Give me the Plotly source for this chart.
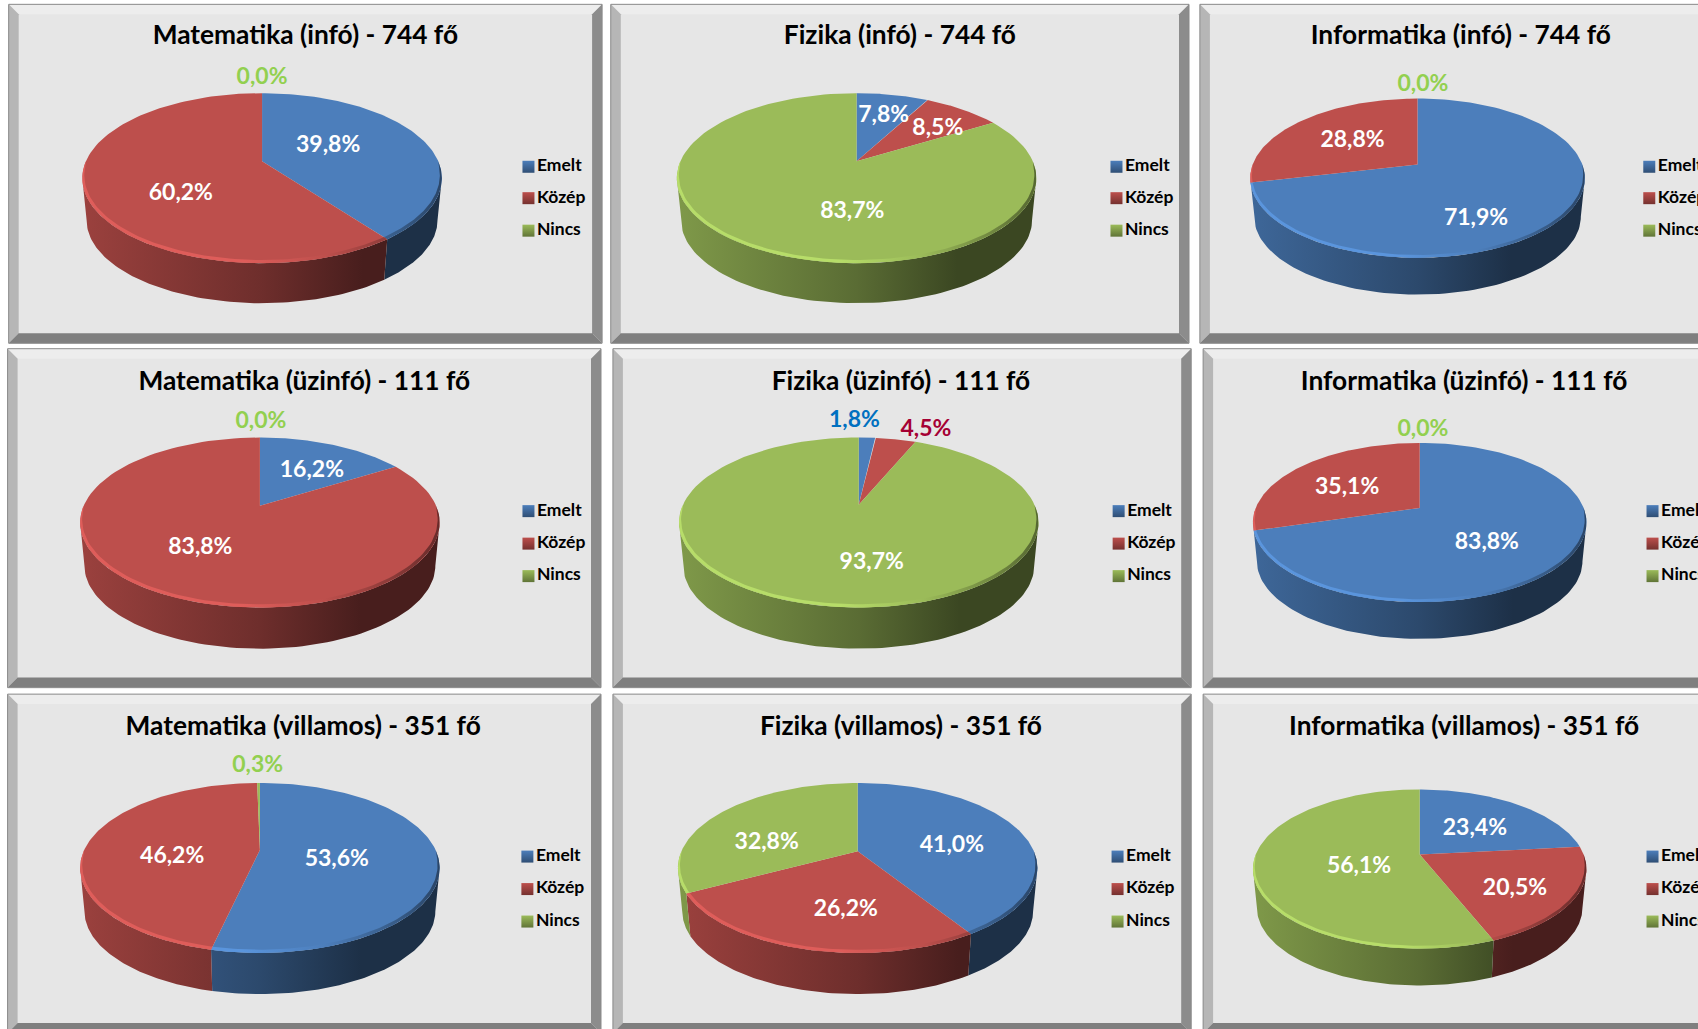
"""Kilenc térhatású kördiagram: érettségi szintek szakonként."""

import numpy as np
import plotly.graph_objects as go

TITLES = [
    "Matematika (infó) - 744 fő", "Fizika (infó) - 744 fő", "Informatika (infó) - 744 fő",
    "Matematika (üzinfó) - 111 fő", "Fizika (üzinfó) - 111 fő", "Informatika (üzinfó) - 111 fő",
    "Matematika (villamos) - 351 fő", "Fizika (villamos) - 351 fő", "Informatika (villamos) - 351 fő",
]
CATEGORIES = ["Emelt", "Közép", "Nincs"]
EMELT = [39.8, 7.8, 71.9, 16.2, 1.8, 83.8, 53.6, 41.0, 23.4]
KOZEP = [60.2, 8.5, 28.8, 83.8, 4.5, 35.1, 46.2, 26.2, 20.5]
NINCS = [0.0, 83.7, 0.0, 0.0, 93.7, 0.0, 0.3, 32.8, 56.1]

COLORS = ["#4c7ebb", "#bd4f4c", "#9bbb59"]
GREEN_OUT = "#92d050"

# layout, measured on the 1568 wide view of the page
S = 1698 / 1568
FRAMES = [
    (8, 4, 556, 317), (564, 4, 1098, 317), (1108, 4, 1650, 317),
    (7, 322, 555, 635), (566, 322, 1100, 635), (1111, 322, 1650, 635),
    (7, 641, 555, 954), (566, 641, 1100, 954), (1111, 641, 1650, 954),
]
# centre x, apex y, half width, top, rim bottom, side bottom
PIES = [
    (242, 149, 166, 86, 243, 280), (791, 149, 166, 86, 243, 280), (1309, 152, 154.5, 91, 238, 272),
    (240, 467, 166, 404, 561, 599), (793, 466, 166, 404, 561, 599), (1311, 469, 154, 409, 556, 590),
    (240, 785, 166, 723, 880, 918), (792, 786, 166, 723, 880, 918), (1311, 789, 154, 729, 876, 910),
]
TITLE_POS = [(282, 32), (831, 32), (1349, 32), (281, 351), (832, 351), (1352, 351),
             (280, 670), (832, 670), (1352, 670)]
LABEL_POS = [
    [(303, 132), (167, 176), (242, 69)],
    [(816, 104), (866, 116), (787, 193)],
    [(1363, 199), (1249, 127), (1314, 76)],
    [(288, 432), (185, 503), (241, 387)],
    [(789, 386), (855, 394), (805, 517)],
    [(1373, 499), (1244, 448), (1314, 394)],
    [(311, 791), (159, 789), (238, 705)],
    [(879, 778), (781, 838), (708, 776)],
    [(1362, 763), (1399, 818), (1255, 798)],
]
LABEL_COLORS = [
    ["white", "white", GREEN_OUT], ["white", "white", "white"], ["white", "white", GREEN_OUT],
    ["white", "white", GREEN_OUT], ["#0070c0", "#a50034", "white"], ["white", "white", GREEN_OUT],
    ["white", "white", GREEN_OUT], ["white", "white", "white"], ["white", "white", "white"],
]
LEGEND_X = [488, 1031, 1523, 488, 1033, 1526, 487, 1032, 1526]
LEGEND_Y = [(153, 182, 212), (153, 182, 212), (153, 182, 212),
            (471, 501, 531), (471, 501, 531), (471, 501, 531),
            (790, 820, 850), (790, 820, 850), (790, 820, 850)]

SIDE_STOPS = [(0, 0.82), (0.5, 0.58), (0.78, 0.38), (1, 0.38)]
RIM_STOPS = [(0, 1.18), (0.45, 1.18), (0.68, 1.0), (0.88, 0.72), (1, 0.55)]
INSET = 0.976
FONT = "Lato"
TEXT_DY = 3  # Lato sits higher in the line than the original font


def shade(color, f):
    rgb = [int(color[i:i + 2], 16) for i in (1, 3, 5)]
    return "rgb(%d,%d,%d)" % tuple(min(255, round(c * f)) for c in rgb)


def gradient(color, stops, t0, t1):
    """Colorscale for the part t0..t1 of a gradient that spans the whole pie."""
    ts = [t[0] for t in stops]
    fs = [t[1] for t in stops]
    t0, t1 = np.clip([t0, t1], 0, 1)
    inner = [t for t in ts if t0 < t < t1]
    pts = [t0] + inner + [t1]
    if t1 - t0 < 1e-6:
        return [[0, shade(color, np.interp(t0, ts, fs))], [1, shade(color, np.interp(t0, ts, fs))]]
    return [[(t - t0) / (t1 - t0), shade(color, np.interp(t, ts, fs))] for t in pts]


def make_geom(pie):
    cx, ay, hw, top, rim, bottom = [p * S for p in pie]
    up, down = ay - top, rim - ay
    k = (down - up) / (down + up)
    return dict(cx=cx, ay=ay, hw=hw, k=k, h=up * (1 + k), a=hw * np.sqrt(1 - k ** 2),
                dy=bottom - ay - INSET * down)


def rim_xy(g, theta, r=1.0):
    # theta in radians, clockwise from the top of the circle, seen in perspective
    u, v = r * np.sin(theta), r * np.cos(theta)
    w = 1 + g["k"] * v
    return g["cx"] + g["a"] * u / w, g["ay"] - g["h"] * v / w


def floor_xy(g, theta):
    x, y = rim_xy(g, theta)
    return g["cx"] + INSET * (x - g["cx"]), g["ay"] + INSET * (y - g["ay"]) + g["dy"]


def add_poly(fig, x, y, name, color=None, scale=None):
    kw = dict(fillcolor=color) if scale is None else dict(
        fillgradient=dict(type="horizontal", colorscale=scale))
    fig.add_trace(go.Scatter(x=list(x), y=list(y), mode="lines", fill="toself",
                             line=dict(width=0), name=name, hoverinfo="name",
                             showlegend=False, **kw))


def add_frame(shapes, x0, y0, x1, y1):
    b = 10
    x0, y0, x1, y1 = x0 * S, y0 * S, x1 * S, y1 * S
    faces = [
        ("#ededed", [(x0, y0), (x1, y0), (x1 - b, y0 + b), (x0 + b, y0 + b)]),
        ("#b6b6b6", [(x0, y0), (x0 + b, y0 + b), (x0 + b, y1 - b), (x0, y1)]),
        ("#8c8c8c", [(x1, y0), (x1 - b, y0 + b), (x1 - b, y1 - b), (x1, y1)]),
        ("#7f7f7f", [(x0, y1), (x0 + b, y1 - b), (x1 - b, y1 - b), (x1, y1)]),
    ]
    shapes.append(dict(type="rect", x0=x0, y0=y0, x1=x1, y1=y1, xref="x", yref="y", layer="below",
                       fillcolor="#e6e6e6", line=dict(width=0)))
    for col, pts in faces:
        path = "M" + "L".join(f"{px:.1f},{py:.1f}" for px, py in pts) + "Z"
        shapes.append(dict(type="path", path=path, xref="x", yref="y", layer="below",
                           fillcolor=col, line=dict(width=0)))
    shapes.append(dict(type="rect", x0=x0, y0=y0, x1=x1, y1=y1, xref="x", yref="y", layer="below",
                       line=dict(color="#8a8a8a", width=1)))


fig = go.Figure()
shapes = []

for i, title in enumerate(TITLES):
    add_frame(shapes, *FRAMES[i])
    g = make_geom(PIES[i])
    values = [EMELT[i], KOZEP[i], NINCS[i]]
    edges = np.cumsum([0] + values) / sum(values) * 2 * np.pi
    left, width = g["cx"] - g["hw"], 2 * g["hw"]

    # the wall runs between the points where the rim is widest
    th_r = np.arccos(-g["k"])
    th_l = 2 * np.pi - th_r
    wall = edges.copy()
    wall[(wall > th_l - np.radians(8)) & (wall < th_l)] = th_l  # too thin to show

    # side wall first, the top surface covers whatever is behind it
    for j, cat in enumerate(CATEGORIES):
        t0, t1 = max(wall[j], th_r), min(wall[j + 1], th_l)
        if t1 <= t0:
            continue
        th = np.linspace(t0, t1, 90)
        xt, yt = rim_xy(g, th)
        xb, yb = floor_xy(g, th)
        xs = np.concatenate([xt, xb[::-1]])
        ys = np.concatenate([yt, yb[::-1]])
        scale = gradient(COLORS[j], SIDE_STOPS, (xs.min() - left) / width, (xs.max() - left) / width)
        add_poly(fig, xs, ys, cat, scale=scale)

    for j, cat in enumerate(CATEGORIES):
        if values[j] <= 0:
            continue
        th = np.linspace(edges[j], edges[j + 1], 120)
        xt, yt = rim_xy(g, th)
        add_poly(fig, np.r_[g["cx"], xt], np.r_[g["ay"], yt], cat, color=COLORS[j])

    # bevel along the near edge of the top surface
    for j, cat in enumerate(CATEGORIES):
        t0, t1 = max(edges[j], np.pi / 2), min(edges[j + 1], 3 * np.pi / 2)
        if t1 <= t0:
            continue
        th = np.linspace(t0, t1, 90)
        xo, yo = rim_xy(g, th)
        xi, yi = rim_xy(g, th, 1 - 0.025 * np.sqrt(np.maximum(0, -np.cos(th))))
        xs = np.concatenate([xo, xi[::-1]])
        ys = np.concatenate([yo, yi[::-1]])
        scale = gradient(COLORS[j], RIM_STOPS, (xs.min() - left) / width, (xs.max() - left) / width)
        add_poly(fig, xs, ys, cat, scale=scale)

    # title and percentage labels
    fig.add_trace(go.Scatter(x=[TITLE_POS[i][0] * S], y=[(TITLE_POS[i][1] + TEXT_DY) * S], mode="text",
                             text=[title], showlegend=False, hoverinfo="skip",
                             textfont=dict(family=FONT, size=26.3, color="black", weight=700)))
    fig.add_trace(go.Scatter(x=[p[0] * S for p in LABEL_POS[i]],
                             y=[(p[1] + TEXT_DY) * S for p in LABEL_POS[i]],
                             mode="text", showlegend=False, hoverinfo="skip",
                             text=[f"{v:.1f}%".replace(".", ",") for v in values],
                             textfont=dict(family=FONT, size=23, color=LABEL_COLORS[i], weight=700)))

    # legend of the panel, drawn by hand so that it can run off the page like the original
    fig.add_trace(go.Scatter(x=[LEGEND_X[i] * S] * 3, y=[(v + 1) * S for v in LEGEND_Y[i]],
                             mode="markers+text", text=CATEGORIES,
                             textposition="middle right",
                             showlegend=False, hoverinfo="skip", cliponaxis=False,
                             marker=dict(symbol="square", size=12, color=COLORS,
                                         gradient=dict(type="vertical", color=[shade(c, 0.62) for c in COLORS]),
                                         line=dict(width=0)),
                             textfont=dict(family=FONT, size=17.5, color="black", weight=700)))

fig.update_layout(
    width=1698, height=1029, margin=dict(l=0, r=0, t=0, b=0),
    paper_bgcolor="white", plot_bgcolor="white", shapes=shapes, showlegend=False,
    xaxis=dict(range=[0, 1698], visible=False, fixedrange=True),
    yaxis=dict(range=[1029, 0], visible=False, fixedrange=True),
)
fig.write_html("out.html", config=dict(displayModeBar=False),
               post_script="document.body.style.margin='0';document.body.style.overflow='hidden';")
